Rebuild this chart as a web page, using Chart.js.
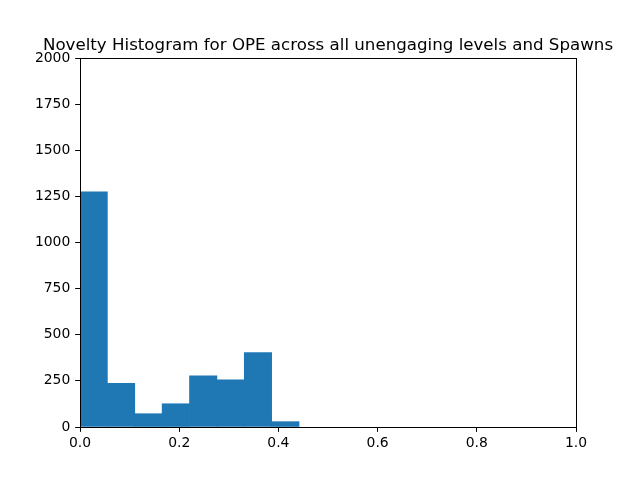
<!DOCTYPE html>
<html>
<head>
<meta charset="utf-8">
<script src="https://cdn.jsdelivr.net/npm/chart.js@4"></script>
<style>
html,body{margin:0;padding:0;background:#fff;}
#wrap{width:640px;height:480px;}
</style>
</head>
<body>
<div id="wrap"><canvas id="c" width="640" height="480"></canvas></div>
<script>
const titleText = "Novelty Histogram for OPE across all unengaging levels and Spawns";
const binEdges = [0, 0.0552, 0.1104, 0.1656, 0.2208, 0.276, 0.3312, 0.3864, 0.4416];
const counts = [1275, 237, 72, 126, 278, 256, 403, 29];
const yTicks = [0, 250, 500, 750, 1000, 1250, 1500, 1750, 2000];
const xTicks = [0.0, 0.2, 0.4, 0.6, 0.8, 1.0];

const points = counts.map((v, i) => ({x: (binEdges[i] + binEdges[i + 1]) / 2, y: v}));
const FONT = "DejaVu Sans";
const TL = 4.86;

const frame = {
  id: 'frame',
  afterDatasetsDraw(chart) {
    const {ctx, chartArea: a} = chart;
    ctx.save();
    ctx.strokeStyle = '#000';
    ctx.lineWidth = 1;
    ctx.strokeRect(Math.round(a.left) + 0.5, Math.round(a.top) + 0.5, Math.round(a.right - a.left) - 0, Math.round(a.bottom - a.top) - 0);
    ctx.fillStyle = '#000';
    ctx.font = "16.67px '" + FONT + "'";
    ctx.textAlign = 'center';
    ctx.textBaseline = 'alphabetic';
    ctx.fillText(titleText, (a.left + a.right) / 2, a.top - 8.4);
    ctx.restore();
  }
};

new Chart(document.getElementById('c'), {
  type: 'bar',
  data: {
    datasets: [{
      data: points,
      backgroundColor: '#1f77b4',
      borderWidth: 0,
      barPercentage: 1.0,
      categoryPercentage: 1.0,
      grouped: false
    }]
  },
  options: {
    responsive: false,
    animation: false,
    devicePixelRatio: 1,
    layout: {padding: {left: 0, right: 64, top: 58, bottom: 0}},
    plugins: {legend: {display: false}, title: {display: false}, tooltip: {enabled: false}},
    scales: {
      x: {
        type: 'linear',
        min: 0, max: 1,
        offset: false,
        afterFit(s) { s.height = 53; },
        afterBuildTicks(s) { s.ticks = xTicks.map(v => ({value: v})); },
        grid: {display: true, drawOnChartArea: false, drawTicks: true, tickLength: TL, color: '#000', offset: false},
        border: {display: true, color: '#000'},
        ticks: {color: '#000', padding: 3, maxRotation: 0, autoSkip: false, font: {family: FONT, size: 13.9},
          callback: v => v.toFixed(1)}
      },
      y: {
        min: 0, max: 2000,
        afterFit(s) { s.width = 80; },
        afterBuildTicks(s) { s.ticks = yTicks.map(v => ({value: v})); },
        grid: {display: true, drawOnChartArea: false, drawTicks: true, tickLength: TL, color: '#000'},
        border: {display: true, color: '#000'},
        ticks: {color: '#000', padding: 4.86, autoSkip: false, font: {family: FONT, size: 13.9},
          callback: v => String(v)}
      }
    }
  },
  plugins: [frame]
});
</script>
</body>
</html>
